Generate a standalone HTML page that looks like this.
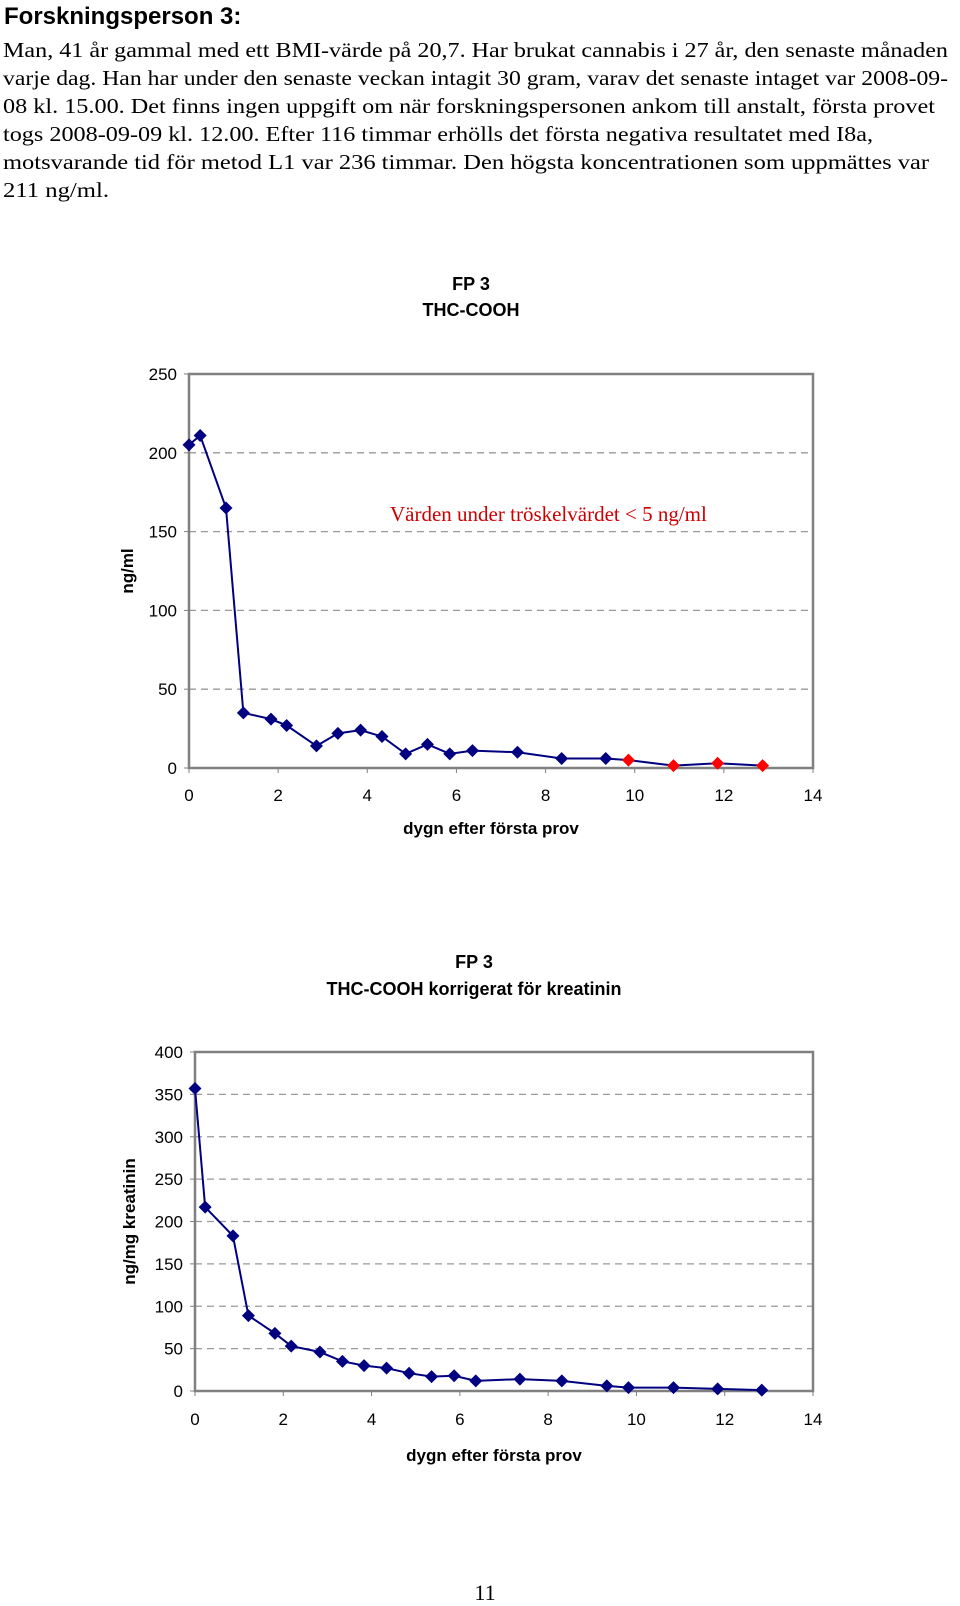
<!DOCTYPE html>
<html><head><meta charset="utf-8">
<style>
html,body{margin:0;padding:0;background:#fff;}
svg{display:block;}
.h{font-family:"Liberation Sans",sans-serif;font-weight:bold;}
.b{font-family:"Liberation Serif",serif;font-size:21px;fill:#000;}
.t{font-family:"Liberation Sans",sans-serif;font-size:17px;fill:#000;}
</style></head>
<body>
<svg id="page" width="960" height="1606" viewBox="0 0 960 1606" xmlns="http://www.w3.org/2000/svg">
<text class="h" x="4" y="24" font-size="24">Forskningsperson 3:</text>
<g>
<text class="b" x="3" y="57" textLength="945" lengthAdjust="spacingAndGlyphs">Man, 41 år gammal med ett BMI-värde på 20,7. Har brukat cannabis i 27 år, den senaste månaden</text>
<text class="b" x="3" y="85" textLength="945" lengthAdjust="spacingAndGlyphs">varje dag. Han har under den senaste veckan intagit 30 gram, varav det senaste intaget var 2008-09-</text>
<text class="b" x="3" y="113" textLength="932" lengthAdjust="spacingAndGlyphs">08 kl. 15.00. Det finns ingen uppgift om när forskningspersonen ankom till anstalt, första provet</text>
<text class="b" x="3" y="141" textLength="870" lengthAdjust="spacingAndGlyphs">togs 2008-09-09 kl. 12.00. Efter 116 timmar erhölls det första negativa resultatet med I8a,</text>
<text class="b" x="3" y="169" textLength="926" lengthAdjust="spacingAndGlyphs">motsvarande tid för metod L1 var 236 timmar. Den högsta koncentrationen som uppmättes var</text>
<text class="b" x="3" y="197" textLength="106" lengthAdjust="spacingAndGlyphs">211 ng/ml.</text>
</g>
<g id="chart1"></g>
<g id="chart2"></g>
<text x="485" y="1600" text-anchor="middle" font-family="Liberation Serif, serif" font-size="22">11</text>
</svg>
<script>
// Chart 1 data
const c1Days = [0,0.25,0.83,1.22,1.84,2.19,2.86,3.34,3.85,4.33,4.86,5.35,5.85,6.36,7.37,8.36,9.35];
const c1Values = [205,211,165,35,31,27,14,22,24,20,9,15,9,11,10,6,6];
const c1RedDays = [9.86,10.87,11.86,12.87];
const c1RedValues = [5,1.5,3,1.5];
const c1YTicks = [0,50,100,150,200,250];
const xTicks = [0,2,4,6,8,10,12,14];
// Chart 2 data
const c2Days = [0,0.23,0.86,1.21,1.81,2.18,2.83,3.34,3.83,4.34,4.85,5.36,5.87,6.36,7.36,8.31,9.33,9.82,10.84,11.84,12.84];
const c2Values = [357,217,183,89,68,53,46,35,30,27,21,17,18,12,14,12,6,4,4,2.5,1];
const c2YTicks = [0,50,100,150,200,250,300,350,400];

const NS='http://www.w3.org/2000/svg';
function mk(tag, attrs, parent, text){
  const e=document.createElementNS(NS,tag);
  for(const k in attrs) e.setAttribute(k,attrs[k]);
  if(text!==undefined) e.textContent=text;
  parent.appendChild(e); return e;
}
function drawChart(g, cfg){
  const {L,R,T,B,yMax,yTicks,days,vals,redDays,redVals,titles,titleYs,yTitle,yTitleX,xTitleY,xLabY}=cfg;
  const xs=d=>L+(d/14)*(R-L);
  const ys=v=>B-(v/yMax)*(B-T);
  titles.forEach((t,i)=>{
    const e=mk('text',{x:(L+R)/2-30,y:titleYs[i],'text-anchor':'middle','font-family':'Liberation Sans, sans-serif','font-weight':'bold','font-size':'18'},g,t);
    
    
  });
  yTicks.forEach(v=>{
    if(v!==0 && v!==yMax){
      const gl=mk('line',{x1:L,x2:R,y1:ys(v),y2:ys(v),stroke:'#999','stroke-width':1.3,'stroke-dasharray':'7,5'},g);
      
      
    }
    const tl=mk('text',{x:L-12,y:ys(v)+6,'text-anchor':'end',class:'t'},g,String(v));
    
    
    mk('line',{x1:L-5,x2:L,y1:ys(v),y2:ys(v),stroke:'#808080','stroke-width':1},g);
  });
  const fr=mk('rect',{x:L,y:T,width:R-L,height:B-T,fill:'none',stroke:'#808080','stroke-width':2.5},g);
  
  
  xTicks.forEach(d=>{
    mk('line',{x1:xs(d),x2:xs(d),y1:B,y2:B+5,stroke:'#808080','stroke-width':1},g);
    const xl=mk('text',{x:xs(d),y:xLabY,'text-anchor':'middle',class:'t'},g,String(d));
    
    
  });
  const xt=mk('text',{x:(L+R)/2-10,y:xTitleY,'text-anchor':'middle','font-family':'Liberation Sans, sans-serif','font-weight':'bold','font-size':'17'},g,'dygn efter första prov');
  
  
  const cy=(T+B)/2;
  const yt=mk('text',{x:yTitleX,y:cy,'text-anchor':'middle',transform:`rotate(-90 ${yTitleX} ${cy})`,'font-family':'Liberation Sans, sans-serif','font-weight':'bold','font-size':'17'},g,yTitle);
  
  
  const allD=days.concat(redDays), allV=vals.concat(redVals);
  const pts=allD.map((d,i)=>xs(d)+','+ys(allV[i])).join(' ');
  const pl=mk('polyline',{points:pts,fill:'none',stroke:'#000080','stroke-width':2},g);
  
  
  const dia=(d,v,col,name)=>{
    const x=xs(d),y=ys(v),s=6.5;
    const p=mk('polygon',{points:`${x},${y-s} ${x+s},${y} ${x},${y+s} ${x-s},${y}`,fill:col},g);
    
    
  };
  days.forEach((d,i)=>dia(d,vals[i],'#000080','data-point'));
  redDays.forEach((d,i)=>dia(d,redVals[i],'#ff0000','below-threshold-point'));
  return {xs,ys};
}
const g1=document.getElementById('chart1');
drawChart(g1,{L:189,R:813,T:374,B:768,yMax:250,yTicks:c1YTicks,days:c1Days,vals:c1Values,redDays:c1RedDays,redVals:c1RedValues,
  titles:['FP 3','THC-COOH'],titleYs:[290,316],yTitle:'ng/ml',yTitleX:133,xTitleY:834,xLabY:801});
const ann=mk('text',{x:390,y:521,'font-family':'Liberation Serif, serif','font-size':'21',fill:'#cc0000'},g1,'Värden under tröskelvärdet < 5 ng/ml');


const g2=document.getElementById('chart2');
drawChart(g2,{L:195,R:813,T:1052,B:1391,yMax:400,yTicks:c2YTicks,days:c2Days,vals:c2Values,redDays:[],redVals:[],
  titles:['FP 3','THC-COOH korrigerat för kreatinin'],titleYs:[968,995],yTitle:'ng/mg kreatinin',yTitleX:135,xTitleY:1461,xLabY:1425});
</script>
</body></html>
